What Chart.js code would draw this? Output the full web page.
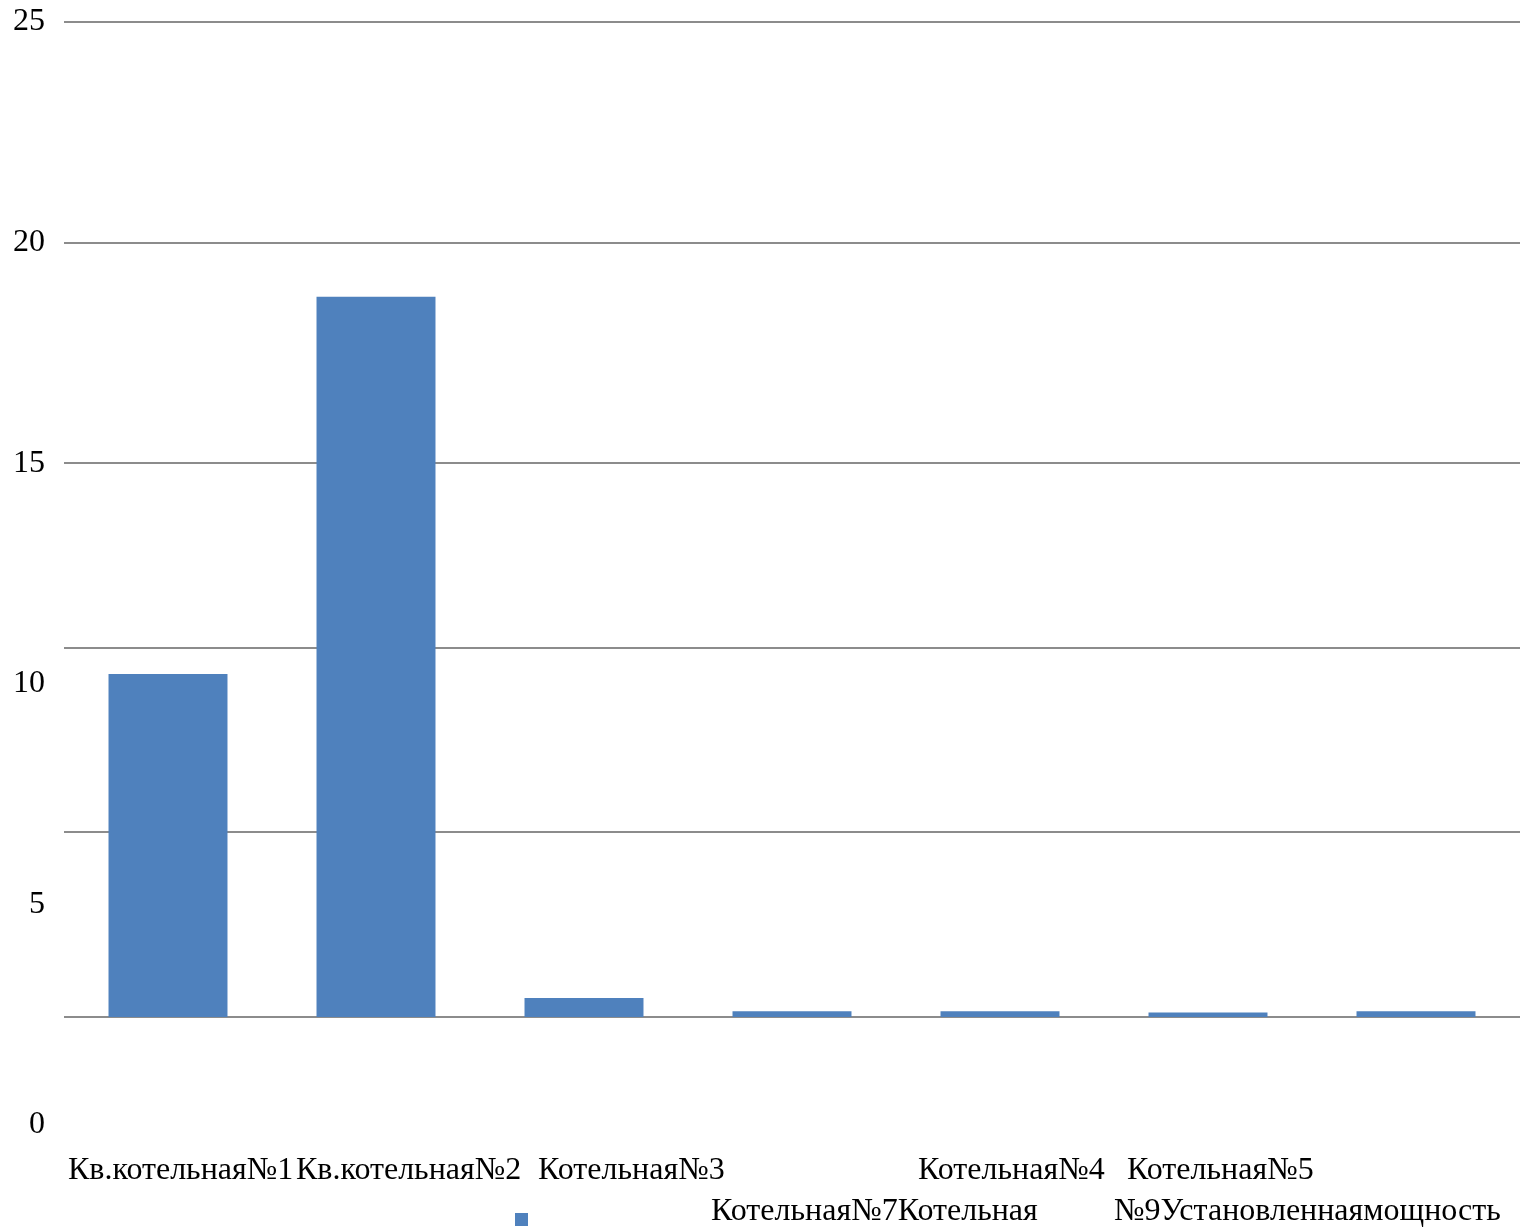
<!DOCTYPE html>
<html>
<head>
<meta charset="utf-8">
<script src="https://cdn.jsdelivr.net/npm/chart.js@4.4.1/dist/chart.umd.min.js"></script>
<style>
  html, body { margin: 0; padding: 0; background: #ffffff; }
  #wrap { width: 1520px; height: 1231px; position: relative; }
</style>
</head>
<body>
<div id="wrap"><canvas id="chart" width="1520" height="1231"></canvas></div>
<script>
// Установленная мощность котельных
const categories = [
  'Кв.котельная№1',
  'Кв.котельная№2',
  'Котельная№3',
  'Котельная№4',
  'Котельная№5',
  'Котельная№7',
  'Котельная №9'
];
const seriesName = 'Установленная мощность';
const capacity = [10.22, 18.77, 2.88, 2.58, 2.58, 2.55, 2.58];
const barBase = 2.45;
const yTickValues = [0, 5, 10, 15, 20, 25];
const gridLevels = [2.45, 6.64, 10.81, 15, 20, 25];

const SERIF = '"Liberation Serif", "Times New Roman", serif';
const BAR_COLOR = '#4F81BD';

// category captions and legend, laid out as running text under the plot
const captionPlugin = {
  id: 'captions',
  afterDraw(chart) {
    const ctx = chart.ctx;
    ctx.save();
    ctx.font = '32px ' + SERIF;
    ctx.fillStyle = '#000000';
    ctx.textBaseline = 'alphabetic';
    ctx.textAlign = 'left';
    const row1 = 1179, row2 = 1220;
    ctx.fillText(categories[0], 68, row1);
    ctx.fillText(categories[1], 296, row1);
    ctx.fillText(categories[2], 538, row1);
    ctx.fillText(categories[3], 918, row1);
    ctx.fillText(categories[4], 1127, row1);
    ctx.fillText(categories[5] + 'Котельная', 711, row2);
    ctx.fillText('№9' + seriesName.replace(' ', ''), 1114, row2);
    // legend marker
    ctx.fillStyle = BAR_COLOR;
    ctx.fillRect(515, 1213, 13, 13);
    ctx.restore();
  }
};

const noEdgePadding = (axis) => { axis.paddingTop = 0; axis.paddingBottom = 0; };

new Chart(document.getElementById('chart'), {
  type: 'bar',
  data: {
    labels: categories,
    datasets: [{
      label: seriesName,
      data: capacity,
      base: barBase,
      backgroundColor: BAR_COLOR,
      borderWidth: 0,
      categoryPercentage: 1,
      barPercentage: 0.572
    }]
  },
  options: {
    responsive: false,
    animation: false,
    devicePixelRatio: 1,
    layout: { padding: { top: 22, bottom: 106, left: 0, right: 0 } },
    plugins: {
      legend: { display: false },
      tooltip: { enabled: false }
    },
    scales: {
      x: {
        display: false,
        offset: true
      },
      y: {
        min: 0,
        max: 25,
        position: 'left',
        afterBuildTicks: (axis) => { axis.ticks = yTickValues.map(v => ({ value: v })); },
        afterFit: (axis) => { axis.width = 64; noEdgePadding(axis); },
        grid: { display: false, drawTicks: false },
        border: { display: false },
        ticks: {
          padding: 19,
          color: '#000000',
          font: { family: SERIF, size: 32 }
        }
      },
      yGrid: {
        type: 'linear',
        min: 0,
        max: 25,
        position: 'left',
        afterBuildTicks: (axis) => { axis.ticks = gridLevels.map(v => ({ value: v })); },
        afterFit: (axis) => { axis.width = 0; noEdgePadding(axis); },
        grid: { color: '#8c8c8c', lineWidth: 2, drawTicks: false },
        border: { display: false },
        ticks: { display: false }
      }
    }
  },
  plugins: [captionPlugin]
});
</script>
</body>
</html>
